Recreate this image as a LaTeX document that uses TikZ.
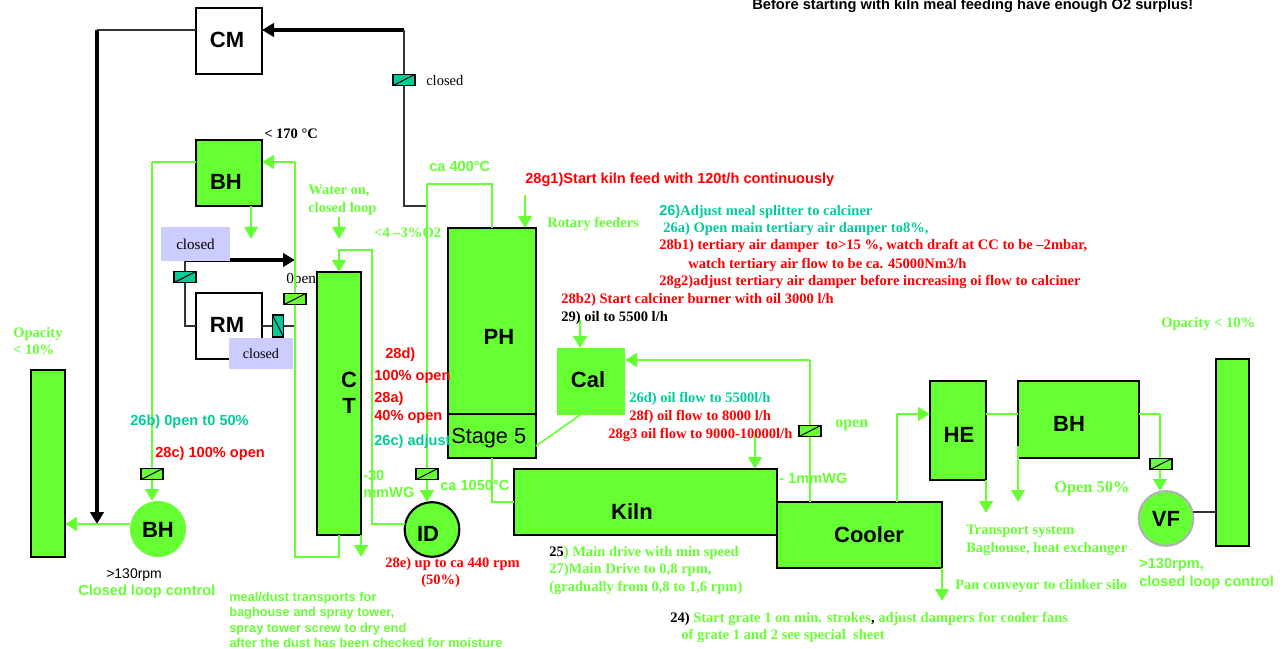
\documentclass[tikz,border=0pt]{standalone}
\usepackage{fontspec}
\setmainfont{Liberation Serif}
\setsansfont{Liberation Sans}
\usetikzlibrary{arrows.meta}
\definecolor{gr}{HTML}{66FF33}
\definecolor{te}{HTML}{00CC99}
\definecolor{rd}{HTML}{FF0000}
\definecolor{pu}{HTML}{CCCCFF}
\newcommand\fs[1]{\fontsize{#1}{#1}\selectfont}
\newcommand\Rbox[6]{\pgfmathsetlengthmacro\bw{(#4-#2)*0.75pt}\pgfmathsetlengthmacro\bh{(#5-#3)*0.75pt}%
  \node[#6,rectangle,inner sep=0,outer sep=0,anchor=north west,minimum width=\bw,minimum height=\bh] (#1) at (#2,#3) {};}
\newcommand\Valve[4]{\node[valve,fill=#4] (#1) at (#2,#3) {};\draw[line width=.8pt] (#1.south west) -- (#1.north east);}
\newcommand\Txt[5]{\node[#4,anchor=base west,inner sep=0] (#1) at (#2,#3) {#5};}
\newcommand\Lab[4]{\node[bigl] (#1) at (#2,#3) {#4};}
\tikzset{
  x=.75pt,y=-.75pt,
  blk/.style={draw=black,line width=1.7pt},
  grn/.style={draw=black,fill=gr,line width=1.7pt},
  nofr/.style={fill=gr},
  valve/.style={draw=black,line width=.9pt,rectangle,inner sep=0,outer sep=0,minimum width=16.5pt,minimum height=8.5pt},
  bigl/.style={font=\sffamily\bfseries\fs{16.5},inner sep=0,text=black},
  gthin/.style={draw=gr,line width=1.2pt},
  gmid/.style={draw=gr,line width=1.9pt},
  garr/.style={draw=gr,line width=2.2pt,-{Triangle[length=9pt,width=10pt]}},
  kthin/.style={draw=black!80,line width=1.1pt},
  karr/.style={draw=black,line width=2.6pt,-{Triangle[length=9pt,width=10pt]}},
  sg/.style={font=\bfseries\fs{10.9},text=gr},
  sr/.style={font=\bfseries\fs{10.9},text=rd},
  st/.style={font=\bfseries\fs{10.9},text=te},
  sk/.style={font=\bfseries\fs{10.9},text=black},
  ang/.style={font=\sffamily\bfseries\fs{10.95},text=gr},
  anr/.style={font=\sffamily\bfseries\fs{10.95},text=rd},
  ant/.style={font=\sffamily\bfseries\fs{10.95},text=te},
}
\begin{document}
\begin{tikzpicture}
\useasboundingbox (0,0) rectangle (1286,649);
% text that lies behind the spray tower
\Txt{topen}{286}{283}{font=\fs{11.5},text=black}{0pen}
% process boxes
\Rbox{cm}{196}{8}{262}{74}{blk}
\Rbox{bha}{196}{140}{262}{206}{grn}
\Rbox{rm}{196}{293}{262}{359}{blk}
\Rbox{ct}{317}{272}{361}{535}{grn}
\Rbox{stack}{31}{370}{65}{557}{grn}
\Rbox{ph}{448}{228}{536}{414}{grn}
\Rbox{st5}{448}{414}{536}{458}{grn}
\Rbox{cal}{557}{348}{625}{415}{nofr}
\Rbox{kiln}{514}{469}{777}{535}{grn}
\Rbox{cooler}{777}{502}{942}{568}{grn}
\Rbox{he}{930}{381}{986}{480}{grn}
\Rbox{bhb}{1018}{381}{1139}{458}{grn}
\Rbox{stackb}{1216}{359}{1249}{546}{grn}
\node[circle,fill=gr,inner sep=0,outer sep=0,minimum size=42pt] (bhc) at (158,529) {};
\node[circle,fill=gr,draw=black,line width=1.6pt,inner sep=0,outer sep=0,minimum size=41pt] (id) at (432,529.5) {};
\node[circle,fill=gr,draw=black!30,line width=1.6pt,inner sep=0,outer sep=0,minimum size=41pt] (vf) at (1166,518.5) {};
% junctions
\coordinate (a) at (97,30);
\coordinate (b) at (404,30);
\coordinate (c) at (427,206);
\coordinate (d) at (152,162);
\coordinate (e) at (295,162);
\coordinate (f) at (295,557);
\coordinate (g) at (339,557);
\coordinate (h) at (251,239);
\coordinate (i) at (185,260);
\coordinate (j) at (295,260);
\coordinate (k) at (185,326);
\coordinate (l) at (295,326);
\coordinate (m) at (339,217);
\coordinate (m2) at (339,239);
\coordinate (n) at (339,250);
\coordinate (o) at (372,250);
\coordinate (p) at (372,524);
\coordinate (q) at (427,184);
\coordinate (r) at (492,184);
\coordinate (s) at (361,557);
\coordinate (t) at (525,195);
\coordinate (u) at (580,320);
\coordinate (v) at (810,360);
\coordinate (w) at (492,502);
\coordinate (y) at (755,435);
\coordinate (z) at (942,601);
\coordinate (aa) at (897,414);
\coordinate (ab) at (1160,414);
\coordinate (ac) at (986,513);
\coordinate (ad) at (1018,446);
\coordinate (ae) at (1018,502);
\coordinate (af) at (97,524);
\coordinate (ag1) at (580,415);
\coordinate (ah) at (536,446);
\coordinate (ai) at (1018,414);
\coordinate (aj) at (1216,512);
% black connectors
\draw[kthin] (cm.west |- a) -- (a);
\draw[karr] (a) -- (af);
\draw[karr] (b) -- (cm.east |- b);
\draw[kthin] (b) -- (b |- c) -- (c);
\draw[karr] (i) -- (j);
\draw[kthin] (i) -- (k) -- (rm.west |- k);
\draw[kthin] (rm.east |- k) -- (l);
\draw[kthin] (vf.east |- aj) -- (aj);
\draw[draw=black,line width=1.7pt] (ai) -- (ad);
% green connectors
\draw[gthin] (bha.west |- d) -- (d);
\draw[garr] (d) -- (d |- bhc.north);
\draw[garr] (e) -- (bha.east |- e);
\draw[gthin] (e) -- (f) -- (g) -- (g |- ct.south);
\draw[garr] (bha.south -| h) -- (h);
\draw[garr] (m) -- (m2);
\draw[garr] (n) -- (ct.north -| n);
\draw[gthin] (n) -- (o) -- (p) -- (id.west |- p);
\draw[garr] (ct.south -| s) -- (s);
\draw[garr] (q) -- (q |- id.north);
\draw[gthin] (q) -- (r) -- (r |- ph.north);
\draw[garr] (t) -- (t |- ph.north);
\draw[garr] (bhc.west |- af) -- (stack.east |- af);
\draw[garr] (u) -- (u |- cal.north);
\draw[garr] (v) -- (cal.east |- v);
\draw[gmid] (v) -- (v |- cooler.north);
\draw[gthin] (ag1) -- (ah);
\draw[gthin] (r |- st5.south) -- (w) -- (kiln.west |- w);
\draw[garr] (y) -- (y |- kiln.north);
\draw[garr] (cooler.south east) -- (z);
\draw[gmid] (aa |- cooler.north) -- (aa);
\draw[garr] (aa) -- (he.west |- aa);
\draw[gthin] (he.east |- aa) -- (bhb.west |- aa);
\draw[gthin] (bhb.east |- ab) -- (ab);
\draw[garr] (ab) -- (ab |- vf.north);
\draw[garr] (he.south east) -- (ac);
\draw[garr] (ad) -- (ae);
% valves
\Valve{v1}{404}{80}{te}
\Valve{v2}{185}{277}{te}
\Valve{v3}{295}{299}{gr}
\Valve{v5}{152}{474}{gr}
\Valve{v6}{427}{474}{gr}
\Valve{v7}{810}{431}{gr}
\Valve{v8}{1161}{464}{gr}
\node[draw=black,line width=.9pt,fill=te,inner sep=0,outer sep=0,minimum width=8.5pt,minimum height=16.5pt] (v4) at (278,326) {};
\draw[line width=.8pt] (v4.north west) -- (v4.south east);
% purple notes
\node[fill=pu,inner sep=0,minimum width=52pt,minimum height=25pt,font=\fs{11.3},text=black] (n1) at (195.5,244) {closed};
\node[fill=pu,inner sep=0,minimum width=48pt,minimum height=23pt,font=\fs{10.6},text=black] (n2) at (261,353.5) {closed};
% box labels
\Lab{lcm}{227}{40}{CM}
\Lab{lbha}{226}{182}{BH}
\Lab{lrm}{227}{325}{RM}
\Lab{lc}{349}{380}{C}
\Lab{lt}{349}{406}{T}
\Lab{lph}{499}{337}{PH}
\Lab{lcal}{588}{380}{Cal}
\Lab{lkiln}{632}{512}{Kiln}
\Lab{lcool}{869}{535}{Cooler}
\Lab{lhe}{959}{435}{HE}
\Lab{lbhb}{1069}{424}{BH}
\Lab{lbhc}{158}{530}{BH}
\Lab{lid}{428}{534}{ID}
\Lab{lvf}{1166}{519}{VF}
\Txt{lst5}{451}{443}{font=\sffamily\fs{16.3},text=black}{Stage 5}
% annotations
\Txt{t1}{752}{10}{font=\sffamily\bfseries\fs{11},text=black}{Before starting with kiln meal feeding have enough O2 surplus!}
\Txt{t2}{426}{86}{font=\fs{10.9},text=black}{closed}
\Txt{t3}{264}{139}{sk}{< 170 °C}
\Txt{t4}{308}{195}{sg}{Water on,}
\Txt{t5}{308}{213}{sg}{closed loop}
\Txt{t6}{374}{238}{sg}{<4 –3\%O2}
\Txt{t7}{429}{172}{ang}{ca 400°C}
\Txt{t8}{525}{184}{anr}{28g1)Start kiln feed with 120t/h continuously}
\Txt{t9}{547}{228}{sg}{Rotary feeders}
\Txt{t10}{659}{216}{st}{{\sffamily 26)}Adjust meal splitter to calciner}
\Txt{t11}{663}{233}{st}{26a) Open main tertiary air damper to8\%,}
\Txt{t12}{659}{250}{sr}{28b1) tertiary air damper\ \ to>15 \%, watch draft at CC to be –2mbar,}
\Txt{t13}{688}{268}{sr}{watch tertiary air flow to be ca. 45000Nm3/h}
\Txt{t14}{659}{286}{sr}{28g2)adjust tertiary air damper before increasing oi flow to calciner}
\Txt{t15}{561}{303}{sr}{28b2) Start calciner burner with oil 3000 l/h}
\Txt{t16}{561}{321}{sk}{29) oil to 5500 l/h}
\Txt{t17}{629}{402}{st}{26d) oil flow to 5500l/h}
\Txt{t18}{629}{420}{sr}{28f) oil flow to 8000 l/h}
\Txt{t19}{608}{438}{sr}{28g3 oil flow to 9000-10000l/h}
\Txt{t20}{835}{427}{font=\bfseries\fs{12},text=gr}{open}
\Txt{t21}{779}{483}{ang}{- 1mmWG}
\Txt{t22}{1161}{327}{sg}{Opacity < 10\%}
\Txt{t23}{1054}{492}{font=\bfseries\fs{12.3},text=gr}{Open 50\%}
\Txt{t24}{966}{534}{sg}{Transport system}
\Txt{t25}{966}{552}{sg}{Baghouse, heat exchanger}
\Txt{t26}{955}{589}{sg}{Pan conveyor to clinker silo}
\Txt{t27}{1139}{568}{ang}{>130rpm,}
\Txt{t28}{1139}{586}{ang}{closed loop control}
\Txt{t29}{549}{556}{sg}{{\color{black}25}) Main drive with min speed}
\Txt{t30}{549}{573}{sg}{27)Main Drive to 0,8 rpm,}
\Txt{t31}{549}{591}{sg}{(gradually from 0,8 to 1,6 rpm)}
\Txt{t32}{670}{622}{sg}{{\color{black}24)} Start grate 1 on min. strokes{\color{black},} adjust dampers for cooler fans}
\Txt{t33}{681}{639}{sg}{of grate 1 and 2 see special\ \ sheet}
\Txt{t34}{385}{567}{sr}{28e) up to ca 440 rpm}
\Txt{t35}{421}{584}{sr}{(50\%)}
\Txt{t36}{106}{578}{font=\sffamily\fs{10.5},text=black}{>130rpm}
\Txt{t37}{78}{595}{ang}{Closed loop control}
\Txt{t38}{229}{601}{font=\sffamily\bfseries\fs{9.6},text=gr}{meal/dust transports for}
\Txt{t39}{229}{616}{font=\sffamily\bfseries\fs{9.6},text=gr}{baghouse and spray tower,}
\Txt{t40}{229}{632}{font=\sffamily\bfseries\fs{9.6},text=gr}{spray tower screw to dry end}
\Txt{t41}{229}{647}{font=\sffamily\bfseries\fs{9.6},text=gr}{after the dust has been checked for moisture}
\Txt{t42}{130}{425}{ant}{26b) 0pen t0 50\%}
\Txt{t43}{155}{457}{anr}{28c) 100\% open}
\Txt{t44}{385}{358}{anr}{28d)}
\Txt{t45}{374}{380}{anr}{100\% open}
\Txt{t46}{374}{402}{anr}{28a)}
\Txt{t47}{374}{420}{anr}{40\% open}
\Txt{t48}{374}{445}{ant}{26c) adjust}
\Txt{t49}{363}{480}{ang}{-30}
\Txt{t50}{363}{497}{ang}{mmWG}
\Txt{t51}{440}{490}{ang}{ca 1050°C}
\Txt{t52}{13}{337}{sg}{Opacity}
\Txt{t53}{13}{354}{sg}{< 10\%}
\end{tikzpicture}
\end{document}
